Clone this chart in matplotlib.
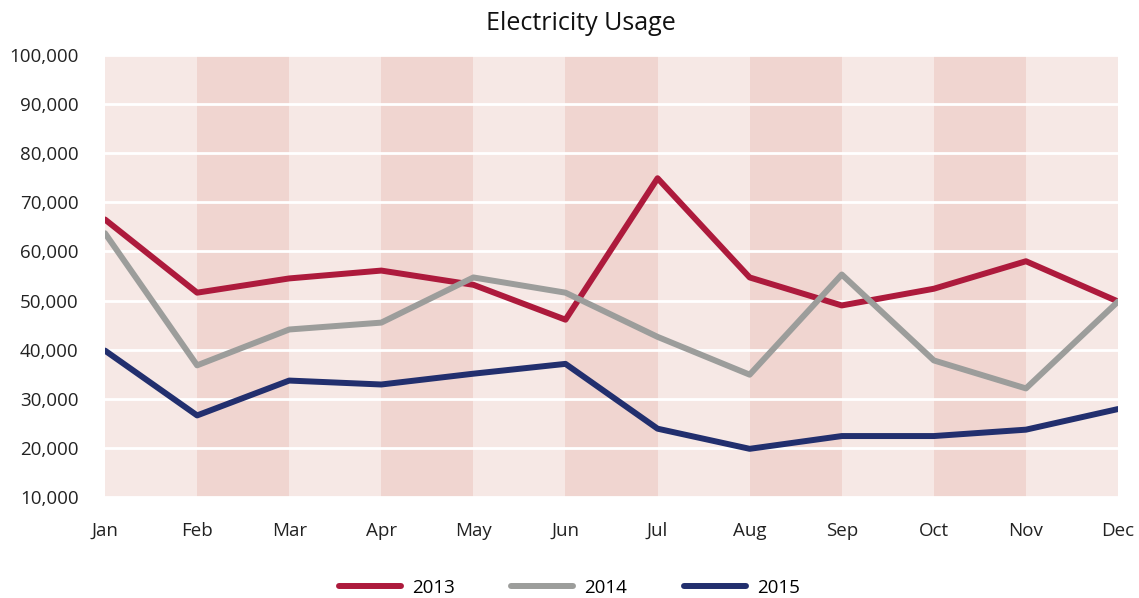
import numpy as np
import matplotlib as mpl
mpl.use('Agg')
from matplotlib import pyplot as plt
import matplotlib.ticker as ticker

plt.rcParams['font.family'] = ['Open Sans', 'DejaVu Sans']

months = ['Jan', 'Feb', 'Mar', 'Apr', 'May', 'Jun',
          'Jul', 'Aug', 'Sep', 'Oct', 'Nov', 'Dec']
usage_2013 = [66500, 51600, 54500, 56100, 53200, 46100,
              74900, 54700, 49000, 52400, 58000, 49800]
usage_2014 = [63700, 36800, 44100, 45500, 54700, 51600,
              42600, 34900, 55300, 37800, 32100, 49800]
usage_2015 = [39800, 26600, 33700, 32900, 35100, 37100,
              23900, 19800, 22400, 22400, 23700, 27900]
y_ticks = [10000, 20000, 30000, 40000, 50000, 60000, 70000, 80000, 90000, 100000]

fig = plt.figure(figsize=(11.39, 5.98), dpi=100)
ax = fig.add_axes([0.0922, 0.169, 0.8894, 0.739])

x = np.arange(len(months))
ax.set_facecolor('#f6e8e5')
for i in range(1, len(months) - 1, 2):
    ax.axvspan(i, i + 1, color='#f0d5d0', lw=0, zorder=0)

ax.set_xlim(0, len(months) - 1)
ax.set_ylim(10000, 100000)
ax.set_yticks(y_ticks)
ax.yaxis.set_major_formatter(ticker.StrMethodFormatter('{x:,.0f}'))
ax.set_xticks(x)
ax.set_xticklabels(months)
ax.grid(axis='y', color='white', lw=2, zorder=1)
ax.set_axisbelow(True)
for s in ax.spines.values():
    s.set_visible(False)
ax.tick_params(length=0, labelsize=13.5, colors='#222222')
ax.tick_params(axis='x', pad=18)
ax.tick_params(axis='y', pad=19)

ax.plot(x, usage_2013, color='#ad1a3c', lw=4.3, label='2013', zorder=3, solid_capstyle='round')
ax.plot(x, usage_2014, color='#9c9d9b', lw=4.3, label='2014', zorder=3, solid_capstyle='round')
ax.plot(x, usage_2015, color='#222f6e', lw=4.3, label='2015', zorder=3, solid_capstyle='round')

fig.suptitle('Electricity Usage', fontsize=18, color='#111111', x=0.51, y=0.982)
fig.legend(loc='lower center', bbox_to_anchor=(0.5, -0.026), ncol=3, frameon=False,
           fontsize=13.5, handlelength=3.3, columnspacing=3.0, handletextpad=0.6)

plt.savefig('out.png', dpi=100)
